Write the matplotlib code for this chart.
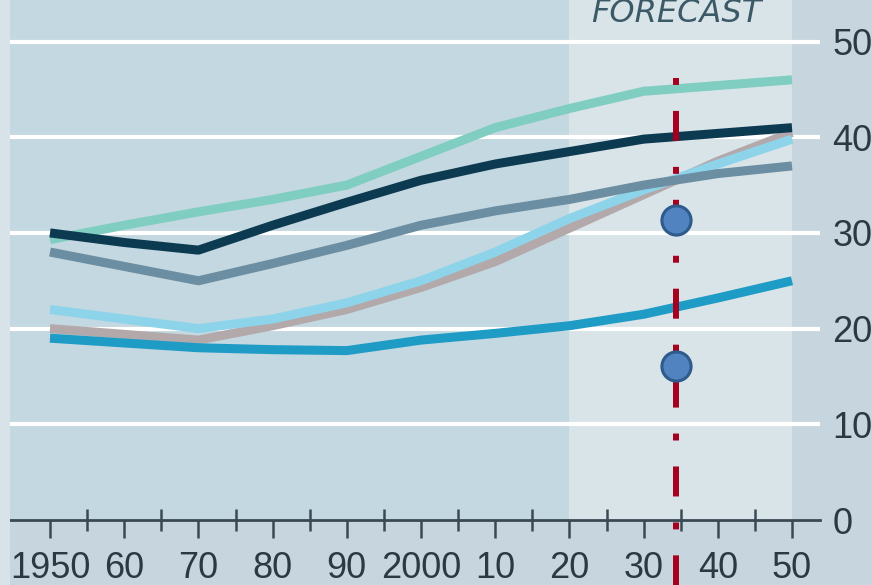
import numpy as np
import matplotlib
matplotlib.use("Agg")
import matplotlib.pyplot as plt
from matplotlib.patches import Rectangle

plt.rcParams['font.family'] = ['Liberation Sans Narrow', 'Liberation Sans', 'DejaVu Sans']
plt.rcParams['lines.scale_dashes'] = False

years = [1950, 1960, 1970, 1980, 1990, 2000, 2010, 2020, 2030, 2040, 2050]
teal = [29.3, 30.8, 32.2, 33.5, 35.0, 38.0, 41.0, 43.0, 44.8, 45.4, 46.0]
navy = [30.0, 29.0, 28.2, 30.8, 33.2, 35.5, 37.2, 38.5, 39.8, 40.4, 41.0]
greyblue = [28.0, 26.5, 25.0, 26.8, 28.7, 30.8, 32.3, 33.5, 35.0, 36.2, 37.0]
skyblue = [22.0, 21.0, 20.0, 21.0, 22.7, 25.0, 28.0, 31.5, 34.5, 37.2, 39.8]
pinkgrey = [20.0, 19.4, 18.8, 20.3, 22.0, 24.3, 27.0, 30.5, 34.0, 37.5, 40.5]
blue = [19.0, 18.5, 18.0, 17.8, 17.7, 18.8, 19.5, 20.3, 21.5, 23.2, 25.0]

marker_year = 2034.3
marker_vals = [31.3, 16.1]

xtick_pos = list(range(1950, 2051, 10))
xtick_labels = ['1950', '60', '70', '80', '90', '2000', '10', '20', '30', '40', '50']
ytick_pos = [0, 10, 20, 30, 40, 50]

fig = plt.figure(figsize=(8.72, 5.85), dpi=100, facecolor='#c7d6de')
fig.patches.append(Rectangle((0, 0), 10 / 872, 1, transform=fig.transFigure,
                             facecolor='#d7e3e9', edgecolor='none', zorder=0))

ax = fig.add_axes([10 / 872, 65 / 585, 810 / 872, 520 / 585])
ax.set_facecolor('#c4d8e1')
ax.set_xlim(1944.61, 2053.77)
ax.set_ylim(0, 54.34)

# forecast band and the strip past 2050
ax.axvspan(2020, 2050, color='#d9e4e9', zorder=0, lw=0)
ax.axvspan(2050, 2060, color='#c7d6de', zorder=0, lw=0)

for v in ytick_pos[1:]:
    ax.axhline(v, color='white', lw=3, zorder=1)

ax.plot(years, pinkgrey, color='#b3a9ab', lw=6.5, zorder=3, solid_capstyle='butt')
ax.plot(years, skyblue, color='#8dd4ea', lw=6.5, zorder=3, solid_capstyle='butt')
ax.plot(years, greyblue, color='#6c8ea2', lw=6.5, zorder=3, solid_capstyle='butt')
ax.plot(years, teal, color='#80cdc1', lw=6.5, zorder=3, solid_capstyle='butt')
ax.plot(years, blue, color='#1e9cc6', lw=6.5, zorder=3, solid_capstyle='butt')
ax.plot(years, navy, color='#0c3a50', lw=6.5, zorder=4, solid_capstyle='butt')

red, = ax.plot([marker_year, marker_year], [46.2, -6.8], color='#a6001f', lw=4.3,
               zorder=5, clip_on=False, solid_capstyle='butt')
red.set_dashes([5, 18.7, 21.6, 18.7])
red.set_dash_capstyle('butt')

ax.plot([marker_year] * len(marker_vals), marker_vals, 'o', ms=21, mfc='#5083c0',
        mec='#2e5a8c', mew=2.2, zorder=6, clip_on=False)

ax.text(2034.4, 54.34 - 14 / 9.57, 'FORECAST', ha='center', va='center', fontsize=23,
        style='italic', color='#3b5966', family=['DejaVu Sans'])

for s in ['top', 'left', 'right']:
    ax.spines[s].set_visible(False)
ax.spines['bottom'].set_color('#3a4a55')
ax.spines['bottom'].set_linewidth(2)

ax.set_xticks(xtick_pos)
ax.set_xticklabels(xtick_labels)
ax.set_xticks(list(range(1955, 2050, 10)), minor=True)
ax.tick_params(axis='x', which='major', direction='out', length=13, width=1.8,
               color='#3a4a55', labelsize=26, labelcolor='#2b3a42', pad=9)
ax.tick_params(axis='x', which='minor', direction='inout', length=16, width=1.8,
               color='#3a4a55')

ax.yaxis.tick_right()
ax.set_yticks(ytick_pos)
ax.set_yticklabels([str(v) for v in ytick_pos])
ax.tick_params(axis='y', length=0, labelsize=26, labelcolor='#2b3a42', pad=9)

fig.savefig('out.png', dpi=100, facecolor=fig.get_facecolor())
